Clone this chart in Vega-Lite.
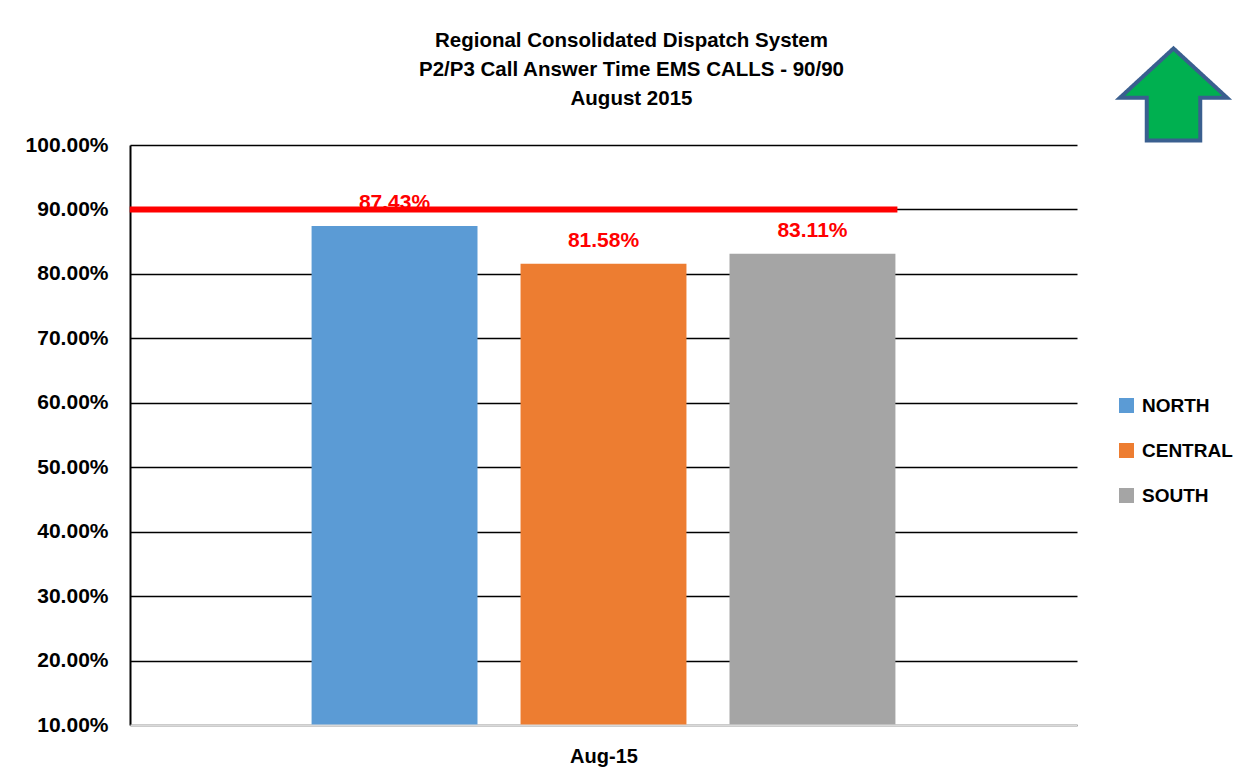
{
  "$schema": "https://vega.github.io/schema/vega-lite/v6.json",
  "width": 947,
  "height": 580,
  "autosize": "none",
  "padding": {"left": 130, "top": 145, "right": 176, "bottom": 59},
  "background": "white",
  "title": {
    "text": ["Regional Consolidated Dispatch System", "P2/P3 Call Answer Time EMS CALLS - 90/90", "August 2015"],
    "font": "Liberation Sans",
    "fontSize": 20.5,
    "fontWeight": "bold",
    "color": "black",
    "lineHeight": 29,
    "anchor": "middle",
    "dx": 28,
    "offset": -70
  },
  "config": {
    "view": {"stroke": null},
    "font": "Liberation Sans"
  },
  "layer": [
    {
      "data": {"values": [
        {"region": "NORTH", "value": 0.8743},
        {"region": "CENTRAL", "value": 0.8158},
        {"region": "SOUTH", "value": 0.8311}
      ]},
      "mark": {"type": "bar", "clip": true},
      "encoding": {
        "x": {
          "field": "region", "type": "nominal",
          "scale": {"domain": ["NORTH", "CENTRAL", "SOUTH"], "paddingInner": 0.206, "paddingOuter": 0.869},
          "axis": {
            "labels": false, "ticks": false, "domainColor": "#D9D9D9", "domainWidth": 2,
            "title": "Aug-15", "titleFont": "Liberation Sans", "titleFontSize": 20, "titleFontWeight": "bold",
            "titleColor": "black", "titlePadding": 21, "zindex": 1
          }
        },
        "y": {
          "field": "value", "type": "quantitative",
          "scale": {"domain": [0.1, 1.0], "zero": false, "nice": false},
          "axis": {
            "values": [0.1, 0.2, 0.3, 0.4, 0.5, 0.6, 0.7, 0.8, 0.9, 1.0],
            "format": ".2%", "title": null, "ticks": false, "labelPadding": 22,
            "labelFont": "Liberation Sans", "labelFontSize": 21, "labelFontWeight": "bold", "labelColor": "black",
            "domainColor": "black", "domainWidth": 2,
            "grid": true, "gridColor": "black", "gridWidth": 1.5, "gridOpacity": 1
          }
        },
        "color": {
          "field": "region", "type": "nominal",
          "scale": {"domain": ["NORTH", "CENTRAL", "SOUTH"], "range": ["#5B9BD5", "#ED7D31", "#A5A5A5"]},
          "legend": {
            "orient": "none", "legendX": 987, "legendY": 251, "title": null,
            "symbolType": "square", "symbolSize": 225, "symbolOpacity": 1, "symbolStrokeWidth": 0,
            "labelFont": "Liberation Sans", "labelFontSize": 19, "labelFontWeight": "bold", "labelColor": "black",
            "labelOffset": 6, "rowPadding": 25
          }
        }
      }
    },
    {
      "data": {"values": [
        {"region": "NORTH", "value": 0.8743},
        {"region": "CENTRAL", "value": 0.8158},
        {"region": "SOUTH", "value": 0.8311}
      ]},
      "mark": {"type": "text", "color": "#FF0000", "font": "Liberation Sans", "fontSize": 21, "fontWeight": "bold", "baseline": "alphabetic", "dy": -17},
      "encoding": {
        "x": {"field": "region", "type": "nominal"},
        "y": {"field": "value", "type": "quantitative"},
        "text": {"field": "value", "type": "quantitative", "format": ".2%"}
      }
    },
    {
      "data": {"values": [{"target": 0.9, "goal": "up", "from": "NORTH", "to": "SOUTH"}]},
      "mark": {"type": "rule", "color": "#FF0000", "strokeWidth": 6},
      "encoding": {
        "y": {"field": "target", "type": "quantitative"},
        "x": {"field": "from", "type": "nominal", "bandPosition": -1.096},
        "x2": {"field": "to", "bandPosition": 1.012},
        "strokeDash": {
          "field": "goal", "type": "nominal",
          "scale": {"range": [[1, 0]]},
          "legend": {
            "orient": "none", "legendX": 988, "legendY": -106, "title": null,
            "symbolType": "M0,-0.86 L1,0.06 L0.5,0.06 L0.5,0.86 L-0.5,0.86 L-0.5,0.06 L-1,0.06 Z",
            "symbolSize": 11449, "symbolFillColor": "#00B050", "symbolStrokeColor": "#2F528F", "symbolStrokeWidth": 4,
            "labelExpr": "''",
            "encode": {"symbols": {"update": {"fill": {"value": "#00B050"}, "stroke": {"value": "#3A5F8F"}, "strokeWidth": {"value": 4}, "opacity": {"value": 1}}}}
          }
        }
      }
    }
  ]
}
